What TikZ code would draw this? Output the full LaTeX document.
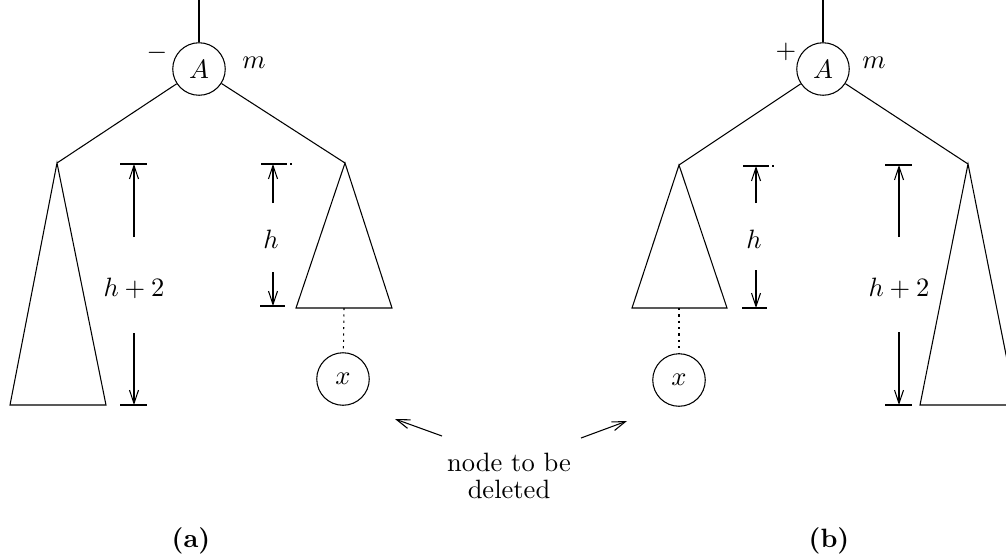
\documentclass[tikz,border=0pt]{standalone}
\usetikzlibrary{arrows.meta}
\begin{document}
\begin{tikzpicture}[x=0.377pt,y=-0.377pt,line width=0.4pt,
  dimarrow/.style={-{Straight Barb[length=5pt,width=3.4pt]}},
  vert/.style={circle,draw,minimum size=19.8pt,inner sep=0pt},
  lbl/.style={inner sep=0pt},
  dotline/.style={dash pattern=on 0.8pt off 1.6pt}]
\clip (0,0) rectangle (1006,556);
% ---------------- (a) ----------------
\coordinate (topA) at (199,0);
\node[vert] (A1) at (199,69) {$A$};
\node[lbl] (sa) at (157,53) {$-$};
\node[lbl] (ma) at (254,63) {$m$};
\coordinate (la) at (57,163);
\coordinate (la1) at (10,405);
\coordinate (la2) at (106,405);
\coordinate (ra) at (345,163);
\coordinate (ra1) at (296,308);
\coordinate (ra2) at (392,308);
\coordinate (rab) at (344,308);
\node[vert] (x1) at (343,379) {$x$};
\draw (topA) -- (A1);
\draw (A1) -- (la);
\draw (A1) -- (ra);
\draw (la) -- (la1) -- (la2) -- cycle;
\draw (ra) -- (ra1) -- (ra2) -- cycle;
\draw[dotline] (rab) -- (x1);
% dimension h+2 (a)
\coordinate (d1t) at (134,164);
\coordinate (d1b) at (134,405);
\coordinate (d1u) at (134,237);
\coordinate (d1d) at (134,333);
\draw ([shift={(-14,0)}]d1t) -- ([shift={(13,0)}]d1t);
\draw ([shift={(-14,0)}]d1b) -- ([shift={(13,0)}]d1b);
\draw[dimarrow] (d1u) -- (d1t);
\draw[dimarrow] (d1d) -- (d1b);
\node[lbl] (l1) at (134,288) {$h+2$};
% dimension h (a)
\coordinate (d2t) at (273,164);
\coordinate (d2b) at (273,306);
\coordinate (d2u) at (273,203);
\coordinate (d2d) at (273,272);
\draw ([shift={(-12,0)}]d2t) -- ([shift={(12,0)}]d2t);
\draw[dash pattern=on 0.8pt off 1.2pt] ([shift={(12,0)}]d2t) -- ([shift={(19,0)}]d2t);
\draw ([shift={(-13,0)}]d2b) -- ([shift={(12,0)}]d2b);
\draw[dimarrow] (d2u) -- (d2t);
\draw[dimarrow] (d2d) -- (d2b);
\node[lbl] (l2) at (271,239) {$h$};
% ---------------- (b) ----------------
\coordinate (topB) at (823,0);
\node[vert] (B1) at (823,69) {$A$};
\node[lbl] (sb) at (786,52) {$+$};
\node[lbl] (mb) at (874,63) {$m$};
\coordinate (lb) at (679,165);
\coordinate (lb1) at (632,308);
\coordinate (lb2) at (727,308);
\coordinate (lbb) at (679,308);
\coordinate (rb) at (968,164);
\coordinate (rb1) at (920,405);
\coordinate (rb2) at (1016,405);
\node[vert] (x2) at (679,380) {$x$};
\draw (topB) -- (B1);
\draw (B1) -- (lb);
\draw (B1) -- (rb);
\draw (lb) -- (lb1) -- (lb2) -- cycle;
\draw (rb) -- (rb1) -- (rb2) -- cycle;
\draw[dotline] (lbb) -- (x2);
% dimension h (b)
\coordinate (d3t) at (756,166);
\coordinate (d3b) at (756,308);
\coordinate (d3u) at (756,203);
\coordinate (d3d) at (756,270);
\draw ([shift={(-13,0)}]d3t) -- ([shift={(11,0)}]d3t);
\draw[dash pattern=on 0.8pt off 1.2pt] ([shift={(11,0)}]d3t) -- ([shift={(18,0)}]d3t);
\draw ([shift={(-14,0)}]d3b) -- ([shift={(11,0)}]d3b);
\draw[dimarrow] (d3u) -- (d3t);
\draw[dimarrow] (d3d) -- (d3b);
\node[lbl] (l3) at (754,239) {$h$};
% dimension h+2 (b)
\coordinate (d4t) at (899,165);
\coordinate (d4b) at (899,405);
\coordinate (d4u) at (899,237);
\coordinate (d4d) at (899,332);
\draw ([shift={(-14,0)}]d4t) -- ([shift={(13,0)}]d4t);
\draw ([shift={(-14,0)}]d4b) -- ([shift={(13,0)}]d4b);
\draw[dimarrow] (d4u) -- (d4t);
\draw[dimarrow] (d4d) -- (d4b);
\node[lbl] (l4) at (899,288) {$h+2$};
% ---------------- annotation ----------------
\node[lbl,align=center] (note) at (509,476) {node to be\\[-2pt]deleted};
\coordinate (n1s) at (442,436);
\coordinate (n1e) at (395,419);
\coordinate (n2s) at (581,438);
\coordinate (n2e) at (627,421);
\draw[dimarrow] (n1s) -- (n1e);
\draw[dimarrow] (n2s) -- (n2e);
\node[lbl] (capa) at (191,541) {\textbf{(a)}};
\node[lbl] (capb) at (829,541) {\textbf{(b)}};
\end{tikzpicture}
\end{document}
